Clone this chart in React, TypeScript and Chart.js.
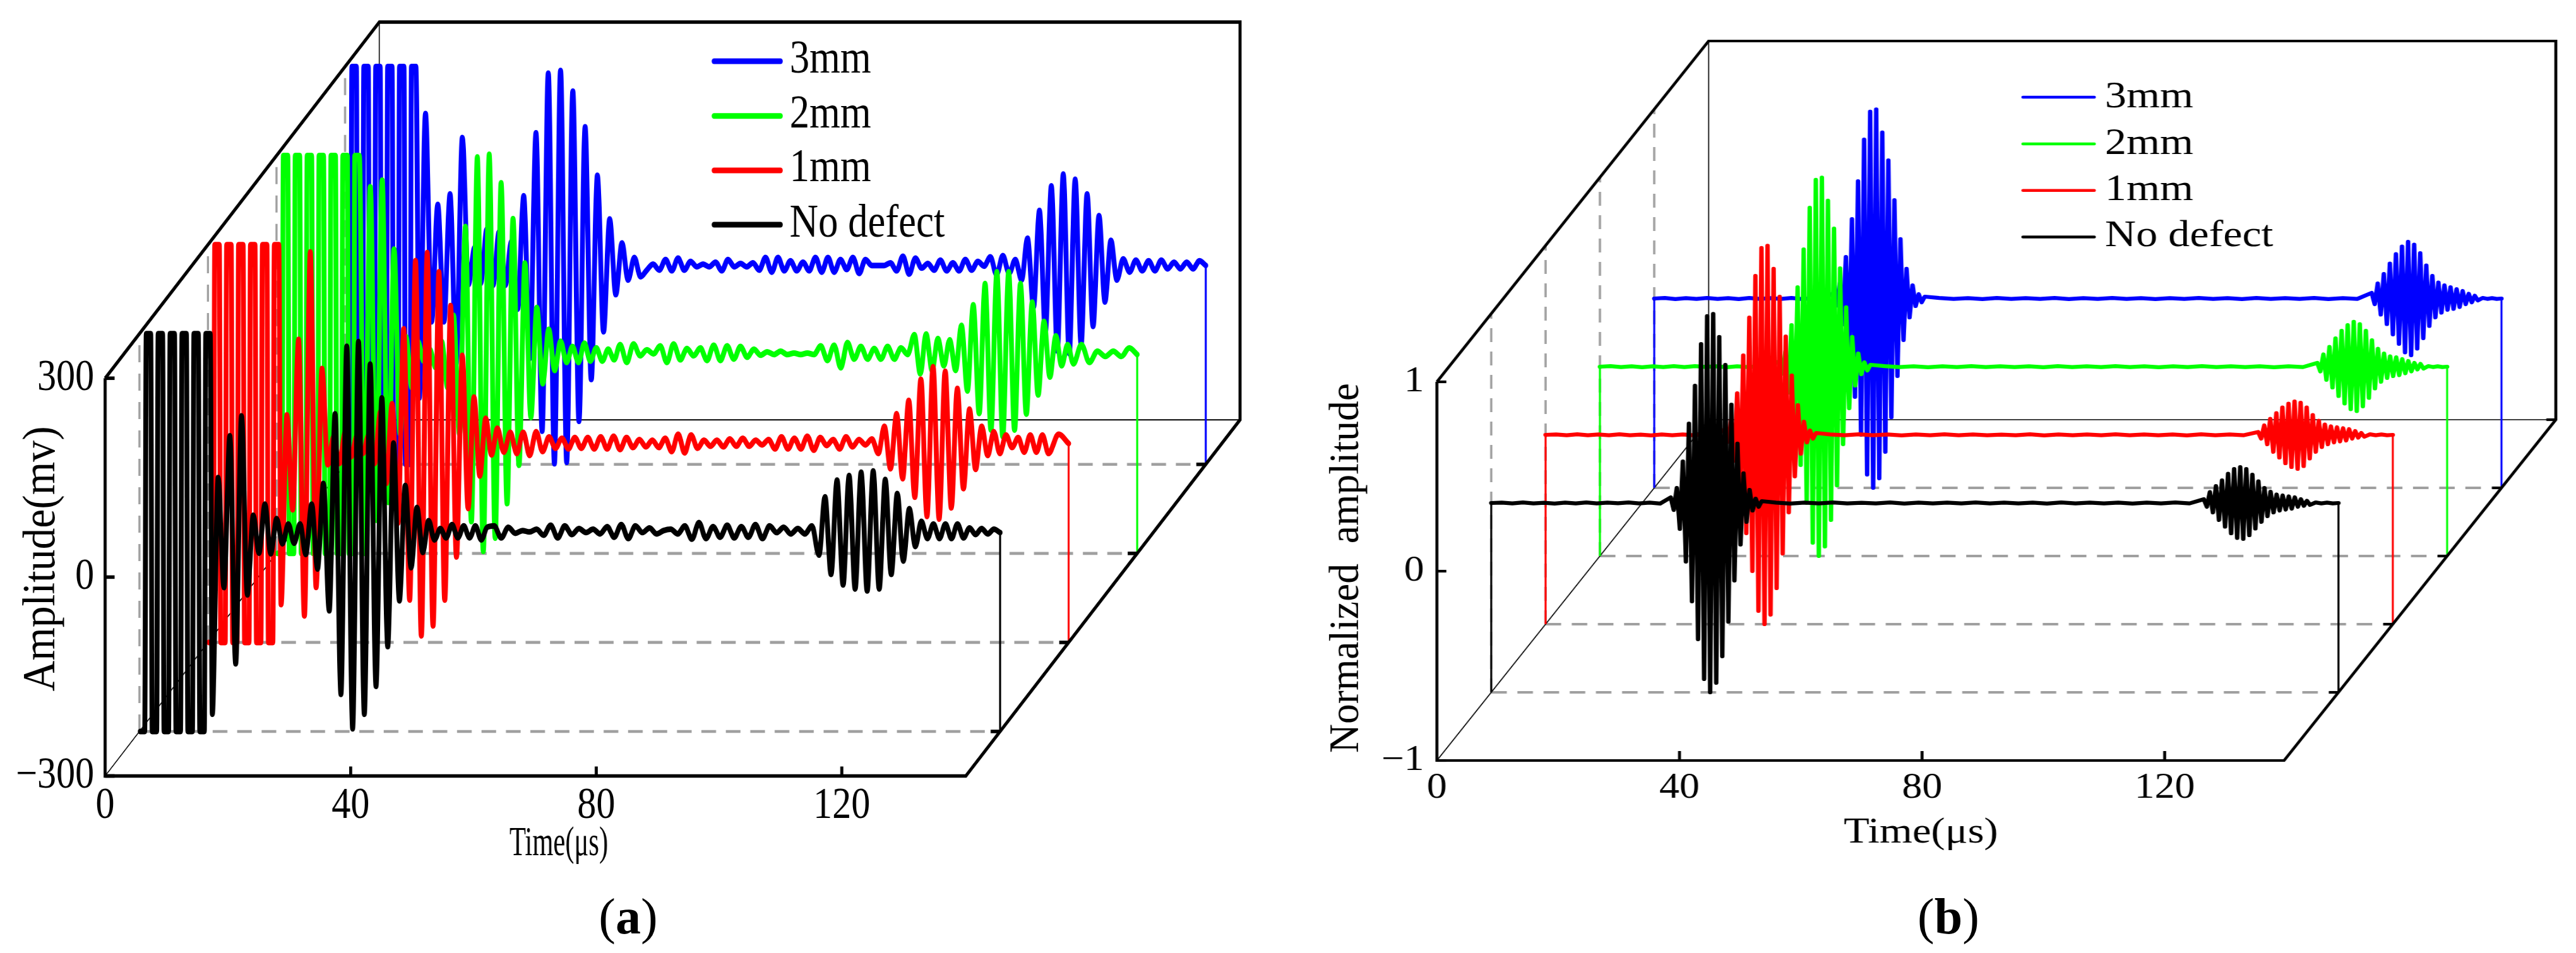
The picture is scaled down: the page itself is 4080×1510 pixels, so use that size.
import React, { useEffect, useRef } from "react";
import { Chart, registerables } from "chart.js";

Chart.register(...registerables);

// ---------- shared labels ----------
const seriesNames = ["No defect", "1mm", "2mm", "3mm"];
const seriesColors = ["#000000", "#ff0000", "#00ff00", "#0000ff"];
const timeTicks = [0, 40, 80, 120];

// ---------- panel (a): amplitude in mV, extremes read half-cycle by half-cycle ----------
const aAmpTicks = [-300, 0, 300];
const aDepths = [0.5, 1.5, 2.5, 3.5];
const aClip12 = [-300, 300, -300, 300, -300, 300, -300, 300, -300, 300, -300, 300];
const aClip14 = [-300, 300, -300, 300, -300, 300, -300, 300, -300, 300, -300, 300, -300, 300];

const aBlackRing = [-274, 83, -83, 146, -198, 176, -94, 26, -31, 43, -32, 21, -17, 13, -16, 13, -33, 43, -55, 74, -118, 179, -244, 281, -296, 288, -274, 254, -232, 203, -172, 135, -103, 71, -53, 38, -30, 18, -11, 6, -8, 12, -8, 10, -8, 10, -11, 8];
const aBlackRipple = [10, -8, 8, -1, 3, 1, 5, -4, 11, -8, 10, -3, 6, 0, 5, -2, 9, -7, 12, -9, 10, 0, 7, -2, 3, 5, -2, 10, -10, 15, -9, 9, -7, 11, -8, 9, -7, 12, -9, 10, 0, 8, -2, 6, -2, 10];
const aBlackEcho = [-34, 54, -63, 79, -79, 86, -85, 91, -88, 93, -85, 80, -63, 59, -43, 36, -21, 17, -9, 13, -9, 13, -9, 13, -8, 7, -3, 6];
const aBlackTail = [-2, 5];

const aRedRing = [-243, 43, -100, 157, -260, 289, -217, 113, -32, 10, -30, 18, -20, 12, -15, 13, -30, 48, -60, 60, -120, 173, -236, 276, -290, 288, -275, 259, -236, 208, -171, 133, -98, 70, -49, 38, -17, 23];
const aRedRipple = [-13, 17, -15, 17, -18, 18, -12, 10, -7, 8, -8, 9, -7, 9, -8, 10, -8, 11, -9, 9, -6, 6, -5, 5, -6, 8, -12, 14, -14, 13, -7, 5, -4, 5, -5, 7, -4, 8, -4, 5, -2, 6, -8, 10, -8, 8, -8, 11, -10, 9, -3, 6, -8, 10, -5, 6, -2, 7];
const aRedEcho = [-15, 26, -38, 45, -53, 65, -81, 97, -110, 116, -114, 109, -97, 83, -68, 52, -39, 26, -18, 18, -15, 13, -6, 9, -13, 13, -13, 13, -15];
const aRedTail = [14];

const aGreenRing = [-300, 253, -250, 263, -223, 159, -120, 27, -50, 20, -10, 8, -20, 20, -50, 59, -120, 193, -252, 298, -297, 302, -277, 259, -225, 205, -167, 138, -95, 71, -44, 38, -24, 20, -12, 12, -12, 17, -10, 10, -10, 8, -8, 15];
const aGreenRipple = [-12, 16, -2, 7, 1, 13, -12, 16, -8, 9, -2, 10, -9, 14, -9, 13, -7, 12, -4, 8, -1, 4, 0, 5, 0, 2, 0, 2, 0, 13, -9, 14, -20, 18, -7, 12, -7, 9, -7, 12, -7, 10, 0];
const aGreenEcho = [30, -29, 31, -24, 24, -17, 22, -24, 44, -55, 75, -89, 107, -114, 125, -124, 125, -114, 107, -90, 79, -61, 50, -34, 28, -17, 15, -14];
const aGreenTail = [15, -12, 5, -3, 5, -3, 10];

const aBlueRing = [-200, 229, -85, 92, -85, 108, -148, 193, -29, 27, -27, 55, -30, 51, -30, 36, -66, 105, -140, 200, -250, 290, -299, 294, -297, 263, -235, 209, -172, 136, -100, 70, -44, 34, -22];
const aBlueRipple = [12, -17, -7, 2, -7, 9, -8, 11, -7, 6, -2, 2, -2, 5, -8, 9, -2, 3, -2, 4, -7, 12, -10, 12, -8, 7, -8, 5, -8, 12, -10, 12, -10, 9, -6, 12, -12, 9, 0, 0, 0, 4, -8, 14, -13, 11, -4, 3, -7, 8, -8, 4, -8, 9, -7, 6, -1, 13, -14, 15, -12, 9];
const aBlueEcho = [-22, 41, -63, 83, -100, 120, -129, 138, -133, 130, -119, 108, -92, 75, -55, 38, -22];
const aBlueTail = [10, -10, 8, -8, 7, -8, 8, -5, 5, -5, 5, -5, 7];

// ---------- panel (b): normalized amplitude ----------
const bAmpTicks = [-1, 0, 1];
const bDepths = [1, 2, 3, 4];
const bMainPacket = [0.03, -0.037, 0.08, -0.137, 0.22, -0.31, 0.42, -0.52, 0.62, -0.72, 0.84, -0.93, 0.987, -1, 0.999, -0.95, 0.877, -0.81, 0.73, -0.627, 0.52, -0.41, 0.314, -0.22, 0.157, -0.1, 0.07, -0.04, 0.023, -0.02, 0.01];
const bBlackLead = [0.002, -0.002, 0.003, -0.002, 0.001, -0.003, 0.002, -0.002, 0.003, -0.002, 0.002, -0.001, 0.003, -0.002, 0.002, -0.003];
const bRedLead = [0.002, -0.002, 0.003, -0.002, 0.002, -0.002, 0.003, -0.002, 0.001, -0.003, 0.002, -0.002, 0.002, -0.002, 0.003, -0.002];
const bGreenLead = [0.003, -0.002, 0.002, -0.003, 0.002, -0.002, 0.003, -0.002, 0.003, -0.001, 0.002, -0.003, 0.002, -0.002, 0.002, -0.002];
const bBlueLead = [0.003, -0.003, 0.002, -0.002, 0.003, -0.002, 0.002, -0.003, 0.003, -0.002, 0.002, -0.002, 0.003, -0.003, 0.002, -0.002];
const bBlackMid = [0.002, -0.003, 0.002, -0.002, 0.003, -0.002, 0.001, -0.002, 0.003, -0.003, 0.002, -0.002, 0.002, -0.002, 0.003, -0.002, 0.002, -0.002, 0.002, -0.003, 0.003, -0.002, 0.002, -0.002, 0.002, -0.003, 0.002, -0.002, 0.003, -0.002];
const bRedMid = [0.002, -0.002, 0.003, -0.002, 0.002, -0.003, 0.002, -0.002, 0.003, -0.002, 0.002, -0.002, 0.001, -0.002, 0.003, -0.003, 0.002, -0.002, 0.002, -0.002, 0.003, -0.002, 0.002, -0.002, 0.002, -0.003, 0.003, -0.002, 0.002, -0.002];
const bGreenMid = [0.003, -0.002, 0.002, -0.003, 0.002, -0.002, 0.003, -0.002, 0.002, -0.002, 0.002, -0.003, 0.003, -0.002, 0.002, -0.002, 0.003, -0.002, 0.002, -0.003, 0.002, -0.002, 0.003, -0.002, 0.002, -0.002, 0.002, -0.003, 0.002, -0.002];
const bBlueMid = [0.003, -0.002, 0.002, -0.003, 0.003, -0.002, 0.002, -0.002, 0.003, -0.003, 0.002, -0.002, 0.003, -0.002, 0.002, -0.003, 0.002, -0.002, 0.003, -0.002, 0.002, -0.003, 0.003, -0.002, 0.002, -0.002, 0.003, -0.003, 0.002, -0.002];
const bBlackEcho = [0.02, -0.02, 0.058, -0.05, 0.09, -0.09, 0.12, -0.125, 0.155, -0.16, 0.18, -0.185, 0.19, -0.19, 0.18, -0.17, 0.15, -0.135, 0.115, -0.1, 0.08, -0.07, 0.06, -0.05, 0.045, -0.04, 0.04, -0.035, 0.035, -0.03, 0.03, -0.02, 0.02, -0.015, 0.012, -0.01];
const bRedEcho = [0.015, -0.02, 0.05, -0.05, 0.085, -0.09, 0.115, -0.12, 0.145, -0.15, 0.165, -0.17, 0.176, -0.18, 0.17, -0.165, 0.145, -0.125, 0.105, -0.09, 0.075, -0.065, 0.055, -0.05, 0.045, -0.04, 0.04, -0.035, 0.035, -0.03, 0.03, -0.02, 0.02, -0.015, 0.01, -0.01];
const bGreenEcho = [0.02, -0.025, 0.065, -0.07, 0.105, -0.11, 0.15, -0.155, 0.19, -0.195, 0.22, -0.225, 0.237, -0.235, 0.225, -0.21, 0.19, -0.165, 0.14, -0.115, 0.095, -0.08, 0.07, -0.06, 0.055, -0.05, 0.05, -0.045, 0.04, -0.035, 0.03, -0.025, 0.02, -0.015, 0.015, -0.01];
const bBlueEcho = [0.03, -0.03, 0.08, -0.085, 0.13, -0.135, 0.185, -0.19, 0.235, -0.24, 0.275, -0.285, 0.3, -0.3, 0.285, -0.265, 0.24, -0.21, 0.175, -0.145, 0.12, -0.1, 0.085, -0.075, 0.07, -0.06, 0.06, -0.055, 0.05, -0.045, 0.04, -0.03, 0.025, -0.02, 0.015, -0.01];
const bTail = [0.003, -0.002, 0.002, -0.002];

type TV = { t: number; v: number };
const place = (vals: number[], start: number, step: number): TV[] =>
  vals.map((v, i) => ({ t: start + i * step, v }));
const spread = (vals: number[], from: number, to: number): TV[] =>
  vals.map((v, i) => ({ t: from + ((i + 1) * (to - from)) / (vals.length + 1), v }));
const last = (p: TV[]) => p[p.length - 1].t;

const A_XEND = 140.2;
const B_XEND = 139.7;
const A_HOLD = 0.97;

function aTrace(clip: number[], ring: number[], ringStart: number, ringStep: number, ripple: number[], echo: number[], echoStart: number, echoStep: number, tail: number[]): TV[] {
  const pts: TV[] = [];
  clip.forEach((L, i) => {
    pts.push({ t: i * A_HOLD + 0.14, v: L }, { t: (i + 1) * A_HOLD - 0.1, v: L });
  });
  const r = place(ring, ringStart, ringStep);
  const e = place(echo, echoStart, echoStep);
  return [
    ...pts,
    ...r,
    ...spread(ripple, last(r), echoStart),
    ...e,
    ...spread(tail, last(e), A_XEND),
    { t: A_XEND, v: 0 },
  ];
}
function bTrace(lead: number[], mid: number[], echo: number[], echoStart: number): TV[] {
  const m = place(bMainPacket, 29.6, 0.5);
  const e = place(echo, echoStart, 0.5);
  return [
    { t: 0, v: 0 },
    ...spread(lead, 0, 29.6),
    ...m,
    ...spread(mid, last(m), echoStart),
    ...e,
    ...spread(bTail, last(e), B_XEND),
    { t: B_XEND, v: 0 },
  ];
}

const aTraces = [
  aTrace(aClip12, aBlackRing, 11.87, 0.9525, aBlackRipple, aBlackEcho, 110.7, 0.981, aBlackTail),
  aTrace(aClip12, aRedRing, 11.9, 0.9525, aRedRipple, aRedEcho, 109.2, 0.99, aRedTail),
  aTrace(aClip14, aGreenRing, 14.3, 0.969, aGreenRipple, aGreenEcho, 103.9, 0.96, aGreenTail),
  aTrace(aClip12, aBlueRing, 12.1, 1.0, aBlueRipple, aBlueEcho, 110.2, 0.97, aBlueTail),
];
const bTraces = [
  bTrace(bBlackLead, bBlackMid, bBlackEcho, 117.5),
  bTrace(bRedLead, bRedMid, bRedEcho, 117.5),
  bTrace(bGreenLead, bGreenMid, bGreenEcho, 118.3),
  bTrace(bBlueLead, bBlueMid, bBlueEcho, 118.3),
];

const SERIF = "'Liberation Serif', serif";
const GREY = "#a0a0a0";

type TextItem = { text: string; x: number; y: number; size: number; sx?: number; sy?: number; rot?: boolean; center?: boolean };

type PanelCfg = {
  offset: number; width: number; scale: number;
  left: number; right: number; top: number; bottom: number;
  xEnd: number; depthMax: number; dx: number; dy: number;
  vMin: number; vMax: number; yTicks: number[];
  traces: TV[][]; depths: number[]; leftStems: boolean;
  traceWidth: number; stemWidth: number; frameWidth: number; thinWidth: number; dashWidth: number; dash: number[];
  smooth: boolean; tickT: number; tickV: number; floorTicks: number[];
  tickFont: number; tickPadX: number; tickPadY: number;
  texts: TextItem[];
  legendX0: number; legendX1: number; legendY: number[]; legendW: number;
  legendTextX: number; legendBase: number[]; legendFont: number; legendSx: number;
};

const panelA: PanelCfg = {
  offset: 0, width: 2040, scale: 0.86,
  left: 166.5, right: 1964, top: 35, bottom: 1229.5,
  xEnd: A_XEND, depthMax: 4, dx: 11.167, dy: 134.3,
  vMin: -300, vMax: 300, yTicks: aAmpTicks,
  traces: aTraces, depths: aDepths, leftStems: false,
  traceWidth: 9, stemWidth: 3.6, frameWidth: 5.6, thinWidth: 1.8, dashWidth: 4.6, dash: [27, 18],
  smooth: true, tickT: 1.54, tickV: 14.3, floorTicks: aDepths,
  tickFont: 70, tickPadX: 6, tickPadY: 20,
  texts: [
    { text: "Time(\u03bcs)", x: 807, y: 1355, size: 66, sx: 0.75 },
    { text: "Amplitude(mv)", x: 86, y: 885.5, size: 70, sx: 0.965, sy: 1.204, rot: true },
  ],
  legendX0: 1131, legendX1: 1236, legendY: [97, 183.7, 270, 356], legendW: 9,
  legendTextX: 1250.6, legendBase: [115, 201.5, 287, 375], legendFont: 73, legendSx: 1,
};

const panelB: PanelCfg = {
  offset: 2040, width: 2040, scale: 1.12,
  left: 2275.8, right: 4048, top: 65, bottom: 1205,
  xEnd: B_XEND, depthMax: 5, dx: 8.96, dy: 0.36,
  vMin: -1, vMax: 1, yTicks: bAmpTicks,
  traces: bTraces, depths: bDepths, leftStems: true,
  traceWidth: 6.2, stemWidth: 2.8, frameWidth: 4.2, thinWidth: 1.5, dashWidth: 3.8, dash: [22, 15],
  smooth: false, tickT: 1.56, tickV: 0.05, floorTicks: [1, 2, 3, 4, 5],
  tickFont: 57, tickPadX: 10, tickPadY: 18,
  texts: [
    { text: "Time(\u03bcs)", x: 2920, y: 1335, size: 56, sx: 1.064 },
    { text: "Normalized  amplitude", x: 2151, y: 900, size: 62, sx: 1.025, sy: 0.97, rot: true },
  ],
  legendX0: 3204, legendX1: 3317, legendY: [154, 228, 301.8, 375.4], legendW: 4.5,
  legendTextX: 3334, legendBase: [170, 243.5, 317, 389.5], legendFont: 59, legendSx: 1.03,
};

function buildDatasets(c: PanelCfg) {
  const P = (t: number, v: number, d: number) => ({ x: t + d * c.dx, y: v + d * c.dy });
  const ds: any[] = [];
  const line = (data: any[], color: string, width: number, extra: any = {}) =>
    ds.push({
      data, borderColor: color, borderWidth: width, pointRadius: 0, tension: 0, fill: false, clip: false,
      borderCapStyle: "butt", borderJoinStyle: "miter", spanGaps: true, ...extra,
    });
  const D = c.depthMax;
  const X = c.xEnd;
  const lo = c.vMin;
  const hi = c.vMax;

  // frame and ticks on top
  line([P(0, hi, 0), P(0, lo, 0), P(X, lo, 0), P(X, lo, D), P(X, hi, D), P(0, hi, D), P(0, hi, 0)], "#000", c.frameWidth);
  c.yTicks.forEach((v) => line([P(0, v, 0), P(c.tickT, v, 0)], "#000", c.frameWidth));
  timeTicks.slice(1).forEach((t) => line([P(t, lo, 0), P(t, lo + c.tickV, 0)], "#000", c.frameWidth));
  c.floorTicks.forEach((d) => line([P(X - c.tickT, lo, d), P(X, lo, d)], "#000", c.frameWidth));

  // traces: black above red above green above blue
  c.traces.forEach((tr, i) => {
    const d = c.depths[i];
    const col = seriesColors[i];
    line(tr.map((p) => P(p.t, p.v, d)), col, c.traceWidth, c.smooth
      ? { cubicInterpolationMode: "monotone", borderJoinStyle: "round", borderCapStyle: "round" }
      : { borderJoinStyle: "round", borderCapStyle: "round" });
    line([P(X, 0, d), P(X, lo, d)], col, c.stemWidth);
    if (c.leftStems) line([P(0, 0, d), P(0, lo, d)], col, c.stemWidth);
  });

  // back wall thin lines
  line([P(0, lo, 0), P(0, lo, D), P(X, lo, D)], "#000", c.thinWidth);
  line([P(0, lo, D), P(0, hi, D)], "#000", c.thinWidth);

  // dashed guides
  c.depths.forEach((d) => {
    line([P(0, lo, d), P(X, lo, d)], GREY, c.dashWidth, { borderDash: c.dash });
    line([P(0, lo, d), P(0, hi, d)], GREY, c.dashWidth * 0.85, { borderDash: c.dash });
  });
  return ds;
}

function Panel({ c }: { c: PanelCfg }) {
  const ref = useRef<HTMLCanvasElement | null>(null);
  const W = Math.ceil(c.width / c.scale);
  const H = 1510;
  const ix = (px: number) => (px - c.offset) / c.scale;

  useEffect(() => {
    const canvas = ref.current;
    if (!canvas) return;
    const leftPad = ix(c.left);
    const rightPad = W - ix(c.right);
    const bottomPad = H - c.bottom;
    const xMax = c.xEnd + c.depthMax * c.dx;
    const yMax = c.vMax + c.depthMax * c.dy;

    const textPlugin = {
      id: "panelText",
      afterDraw(chart: any) {
        const ctx = chart.ctx;
        ctx.save();
        ctx.fillStyle = "#000";
        ctx.textAlign = "left";
        ctx.textBaseline = "alphabetic";
        c.texts.forEach((t) => {
          ctx.save();
          ctx.font = `${t.size}px ${SERIF}`;
          ctx.translate(ix(t.x), t.y);
          if (t.rot) {
            ctx.rotate(-Math.PI / 2);
            ctx.scale(t.sx ?? 1, t.sy ?? 1);
            ctx.textAlign = "center";
          } else {
            ctx.scale(t.sx ?? 1, t.sy ?? 1);
          }
          ctx.fillText(t.text, 0, 0);
          ctx.restore();
        });
        // legend: 3mm first, No defect last
        [3, 2, 1, 0].forEach((s, row) => {
          ctx.beginPath();
          ctx.lineCap = "round";
          ctx.lineWidth = c.legendW;
          ctx.strokeStyle = seriesColors[s];
          ctx.moveTo(ix(c.legendX0), c.legendY[row]);
          ctx.lineTo(ix(c.legendX1), c.legendY[row]);
          ctx.stroke();
          ctx.save();
          ctx.font = `${c.legendFont}px ${SERIF}`;
          ctx.translate(ix(c.legendTextX), c.legendBase[row]);
          ctx.scale(c.legendSx, 1);
          ctx.fillText(seriesNames[s], 0, 0);
          ctx.restore();
        });
        ctx.restore();
      },
    };

    const fmt = (v: any) => {
      const n = Number(v);
      return n < 0 ? "\u2212" + Math.abs(n) : String(n);
    };

    const chart = new Chart(canvas, {
      type: "line",
      data: { datasets: buildDatasets(c) },
      plugins: [textPlugin],
      options: {
        responsive: false,
        maintainAspectRatio: false,
        animation: false,
        devicePixelRatio: 1,
        events: [],
        layout: { padding: { top: c.top, right: rightPad, left: 0, bottom: 0 } },
        plugins: { legend: { display: false }, title: { display: false }, tooltip: { enabled: false } },
        scales: {
          x: {
            type: "linear", min: 0, max: xMax,
            grid: { display: false, drawTicks: false }, border: { display: false },
            ticks: {
              autoSkip: false, maxRotation: 0, minRotation: 0, padding: c.tickPadX, color: "#000",
              font: { family: SERIF, size: c.tickFont }, callback: fmt,
            },
            afterBuildTicks: (s: any) => { s.ticks = timeTicks.map((value) => ({ value })); },
            afterFit: (s: any) => { s.height = bottomPad; s.paddingLeft = 0; s.paddingRight = 0; },
          },
          y: {
            type: "linear", min: c.vMin, max: yMax,
            grid: { display: false, drawTicks: false }, border: { display: false },
            ticks: {
              autoSkip: false, padding: c.tickPadY, color: "#000",
              font: { family: SERIF, size: c.tickFont }, callback: fmt,
            },
            afterBuildTicks: (s: any) => { s.ticks = c.yTicks.map((value) => ({ value })); },
            afterFit: (s: any) => { s.width = leftPad; s.paddingTop = 0; s.paddingBottom = 0; },
          },
        },
      },
    } as any);
    return () => chart.destroy();
  }, []);

  return (
    <div style={{ position: "absolute", left: c.offset, top: 0, width: W, height: H, transform: `scaleX(${c.scale})`, transformOrigin: "0 0" }}>
      <canvas ref={ref} width={W} height={H} style={{ display: "block", width: W, height: H }} />
    </div>
  );
}

const captionStyle = (center: number): React.CSSProperties => ({
  position: "absolute", left: center - 100, width: 200, top: 1402, textAlign: "center",
  fontFamily: SERIF, fontSize: 80, lineHeight: "100px", color: "#000",
});

export default function App() {
  return (
    <div style={{ position: "absolute", left: 0, top: 0, width: 4080, height: 1510, overflow: "hidden", background: "#fff" }}>
      <Panel c={panelA} />
      <Panel c={panelB} />
      <div style={captionStyle(995)}>(<b>a</b>)</div>
      <div style={captionStyle(3086)}>(<b>b</b>)</div>
    </div>
  );
}
